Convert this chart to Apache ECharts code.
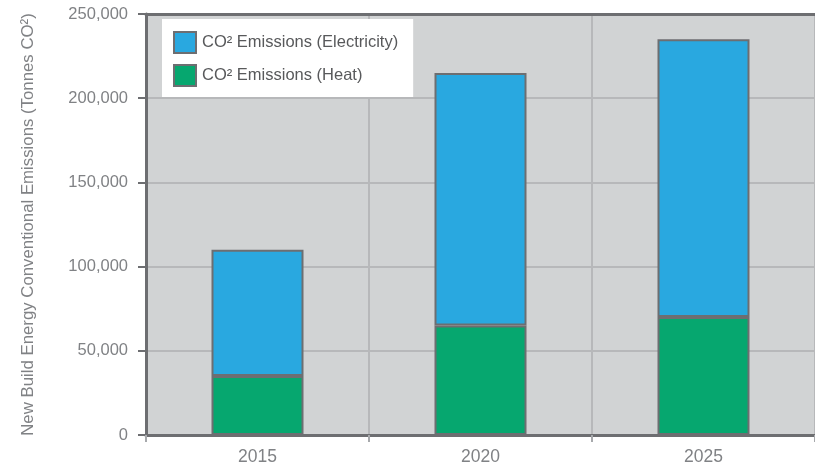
<!DOCTYPE html>
<html>
<head>
<meta charset="utf-8">
<script src="https://cdn.jsdelivr.net/npm/echarts@6/dist/echarts.min.js"></script>
<style>
  html, body { margin: 0; padding: 0; background: #ffffff; }
  #chart { width: 815px; height: 466px; }
</style>
</head>
<body>
<div id="chart"></div>
<script>
// Projected CO2 emissions from new-build energy, tonnes per year
const years = ['2015', '2020', '2025'];
const heatEmissions = [35000, 65000, 70000];
const electricityEmissions = [75000, 150000, 165000];
const yTicks = [0, 50000, 100000, 150000, 200000, 250000];

const seriesNames = {
  electricity: 'CO\u00B2 Emissions (Electricity)',
  heat: 'CO\u00B2 Emissions (Heat)'
};

const axisDark = '#6d6e71';
const gridLight = '#b7b8ba';
const labelGrey = '#808285';
const fontFamily = '"Liberation Sans", Arial, sans-serif';

const chart = echarts.init(document.getElementById('chart'), null, { renderer: 'canvas' });

chart.setOption({
  animation: false,
  textStyle: { fontFamily: fontFamily },
  grid: {
    left: 146,
    right: 0,
    top: 14,
    bottom: 29,
    show: true,
    backgroundColor: '#d1d3d4',
    borderWidth: 0
  },
  legend: {
    orient: 'vertical',
    left: 162,
    top: 19,
    padding: [12, 15, 10, 11],
    backgroundColor: '#ffffff',
    itemWidth: 22,
    itemHeight: 21,
    itemGap: 10,
    icon: 'rect',
    data: [seriesNames.electricity, seriesNames.heat],
    itemStyle: { borderColor: axisDark, borderWidth: 2 },
    textStyle: { color: '#58595b', fontSize: 16.5, fontFamily: fontFamily, padding: [0, 0, 0, 1] }
  },
  xAxis: [
    {
      type: 'category',
      data: years,
      axisLine: { show: true, lineStyle: { color: axisDark, width: 3 } },
      axisTick: { show: true, length: 7, lineStyle: { color: '#a7a9ac', width: 2 } },
      axisLabel: { color: labelGrey, fontSize: 17.5, margin: 13 },
      splitLine: { show: true, lineStyle: { color: gridLight, width: 2 } }
    },
    {
      type: 'category',
      data: years,
      position: 'top',
      axisLine: { show: true, lineStyle: { color: axisDark, width: 3 } },
      axisTick: { show: false },
      axisLabel: { show: false },
      splitLine: { show: false }
    }
  ],
  yAxis: {
    type: 'value',
    min: yTicks[0],
    max: yTicks[yTicks.length - 1],
    interval: yTicks[1] - yTicks[0],
    name: 'New Build Energy Conventional Emissions (Tonnes CO\u00B2)',
    nameLocation: 'middle',
    nameRotate: 90,
    nameGap: 109,
    nameTextStyle: { color: labelGrey, fontSize: 16.8 },
    axisLine: { show: true, lineStyle: { color: axisDark, width: 3 } },
    axisTick: { show: true, length: 8, lineStyle: { color: axisDark, width: 2 } },
    axisLabel: {
      color: labelGrey,
      fontSize: 16.5,
      margin: 18,
      formatter: v => v.toLocaleString('en-US')
    },
    splitLine: { show: true, lineStyle: { color: gridLight, width: 2 } }
  },
  series: [
    {
      name: seriesNames.heat,
      type: 'bar',
      stack: 'total',
      data: heatEmissions,
      barWidth: 92,
      itemStyle: { color: '#06a76f', borderColor: axisDark, borderWidth: 2 }
    },
    {
      name: seriesNames.electricity,
      type: 'bar',
      stack: 'total',
      data: electricityEmissions,
      barWidth: 92,
      itemStyle: { color: '#29a8e0', borderColor: axisDark, borderWidth: 2 }
    }
  ]
});
</script>
</body>
</html>
